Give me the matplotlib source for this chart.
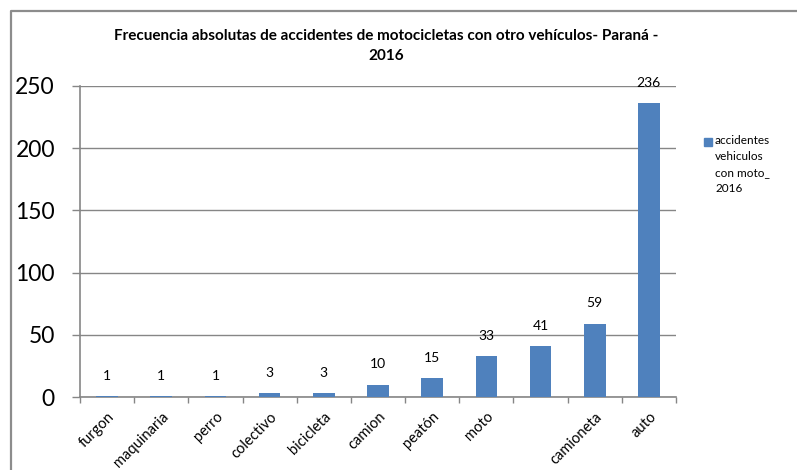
import matplotlib.pyplot as plt
from matplotlib.lines import Line2D

plt.rcParams['font.family'] = ['Lato', 'DejaVu Sans']

categorias = ['furgon', 'maquinaria', 'perro', 'colectivo', 'bicicleta', 'camion',
              'peatón', 'moto', '', 'camioneta', 'auto']
accidentes = [1, 1, 1, 3, 3, 10, 15, 33, 41, 59, 236]
serie = 'accidentes\nvehiculos\ncon moto_\n2016'
titulo = 'Frecuencia absolutas de accidentes de motocicletas con otro vehículos- Paraná -\n2016'

azul = '#4F81BD'
gris = '#868686'

fig = plt.figure(figsize=(7.97, 4.70), dpi=100)
ax = fig.add_axes([80/797, 1-397/470, (676-80)/797, (397-86)/470])

x = range(len(categorias))
ax.bar(x, accidentes, width=0.4, color=azul, zorder=3)

# etiquetas de valores
for xi, v in zip(x, accidentes):
    ax.annotate(str(v), (xi, v), xytext=(0, 14.5), textcoords='offset points',
                ha='center', va='center', fontsize=10)

ax.set_xlim(-0.5, len(categorias) - 0.5)
ax.set_ylim(0, 250)
ax.set_yticks(range(0, 251, 50))
ax.yaxis.grid(True, color=gris, linewidth=1)
ax.set_axisbelow(True)

ax.set_xticks([i - 0.5 for i in range(len(categorias) + 1)])
ax.set_xticklabels([])
ax.set_xticks(list(x), minor=True)
ax.set_xticklabels(categorias, minor=True, rotation=45, ha='right',
                   rotation_mode='anchor', fontsize=10.5)
ax.tick_params(axis='x', which='minor', length=0, pad=9)
ax.tick_params(axis='x', which='major', length=4, color=gris, width=1)
ax.tick_params(axis='y', length=6, color=gris, width=1, labelsize=16.5, pad=12)

for s in ['top', 'right']:
    ax.spines[s].set_visible(False)
for s in ['left', 'bottom']:
    ax.spines[s].set_color(gris)
    ax.spines[s].set_linewidth(1.2)

fig.text(386/797, 1-29/470, titulo, ha='center', va='top', fontsize=11,
         fontweight='bold', linespacing=1.5)

# leyenda
fig.patches.append(plt.Rectangle((704/797, 1-146/470), 8/797, 8/470,
                                 color=azul, transform=fig.transFigure))
fig.text(715/797, 1-135/470, serie, ha='left', va='top', fontsize=8.5,
         linespacing=1.55)

# borde
fig.add_artist(Line2D([11/797, 11/797, 1], [0, 1-11/470, 1-11/470],
                      transform=fig.transFigure, color='#8c8c8c', linewidth=1.6))

fig.savefig('out.png', dpi=100)
